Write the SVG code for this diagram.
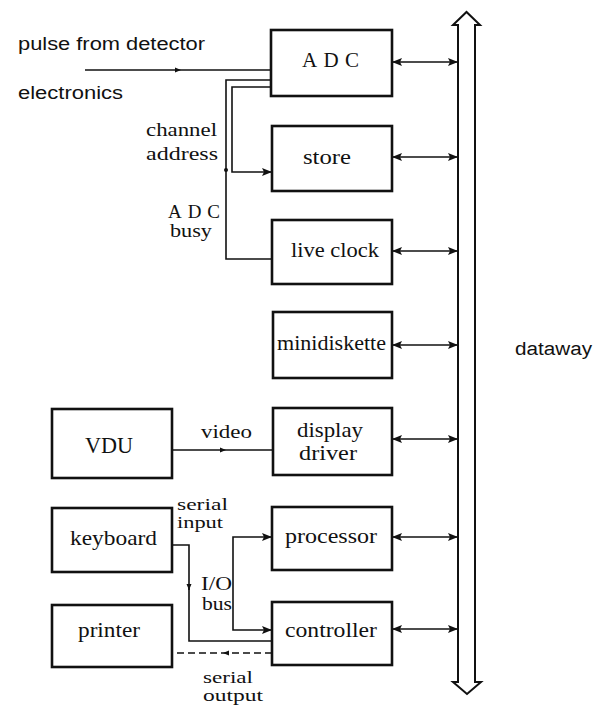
<svg xmlns="http://www.w3.org/2000/svg" width="594" height="705" viewBox="0 0 594 705">
<style>
.box{fill:#fff;stroke:#111;stroke-width:2.6}
.ln{fill:none;stroke:#111;stroke-width:1.6}
.dash{stroke-dasharray:7 4}
.bus{fill:#fff;stroke:#111;stroke-width:2}
.t{font-family:"Liberation Serif","Times New Roman",serif;font-size:21px;fill:#111}
.s{font-family:"Liberation Serif","Times New Roman",serif;font-size:19px;fill:#111}
.s2{font-family:"Liberation Serif","Times New Roman",serif;font-size:17px;fill:#111}
.ss{font-family:"Liberation Sans",Arial,sans-serif;font-size:18px;fill:#111}
</style>
<defs>
<marker id="ah" viewBox="0 0 10 8" refX="10" refY="4" markerWidth="10" markerHeight="8" markerUnits="userSpaceOnUse" orient="auto-start-reverse">
<path d="M0,0 L10,4 L0,8 L2,4 Z" fill="#111"/>
</marker>
<marker id="mid" viewBox="0 0 6 6" refX="3" refY="3" markerWidth="6" markerHeight="6" markerUnits="userSpaceOnUse" orient="auto">
<path d="M0,0.5 L6,3 L0,5.5 Z" fill="#111"/>
</marker>
</defs>

<g id="dataway">
<path class="bus" d="M458,682 L458,25 L453,25 L466.5,12 L480,25 L475,25 L475,682 L481,682 L467,694 L453,682 Z"/>
<text class="ss" x="515" y="355" textLength="77" lengthAdjust="spacingAndGlyphs">dataway</text>
</g>

<g id="connectors">
<path class="ln" d="M392,62 H458" marker-start="url(#ah)" marker-end="url(#ah)"/>
<path class="ln" d="M392,157 H458" marker-start="url(#ah)" marker-end="url(#ah)"/>
<path class="ln" d="M392,251 H458" marker-start="url(#ah)" marker-end="url(#ah)"/>
<path class="ln" d="M392,345 H458" marker-start="url(#ah)" marker-end="url(#ah)"/>
<path class="ln" d="M392,439 H458" marker-start="url(#ah)" marker-end="url(#ah)"/>
<path class="ln" d="M392,537 H458" marker-start="url(#ah)" marker-end="url(#ah)"/>
<path class="ln" d="M392,629 H458" marker-start="url(#ah)" marker-end="url(#ah)"/>
<path class="ln" d="M85,70 H178 H271" marker-mid="url(#mid)"/>
<path class="ln" d="M271,80 H226 V259 H272"/>
<path class="ln" d="M271,87 H232 V172 H272" marker-end="url(#ah)"/>
<circle cx="226" cy="170" r="2" fill="#111"/>
<path class="ln" d="M172,450 H223 H273" marker-mid="url(#mid)"/>
<path class="ln" d="M172,545 H189 V641 H272"/>
<path class="ln" d="M189,584 V587 V590" marker-mid="url(#mid)"/>
<path class="ln" d="M233,583 V537 H272" marker-end="url(#ah)"/>
<path class="ln" d="M233,583 V630 H272" marker-end="url(#ah)"/>
<path class="ln dash" d="M272,653 H226 H172" marker-mid="url(#mid)"/>
</g>

<g id="labels">
<text class="ss" x="18" y="50" textLength="187" lengthAdjust="spacingAndGlyphs">pulse from detector</text>
<text class="ss" x="18" y="99" textLength="105" lengthAdjust="spacingAndGlyphs">electronics</text>
<text class="s" x="146" y="136" textLength="71" lengthAdjust="spacingAndGlyphs">channel</text>
<text class="s" x="146" y="160" textLength="72" lengthAdjust="spacingAndGlyphs">address</text>
<text class="s" x="168" y="218" textLength="52" lengthAdjust="spacing">ADC</text>
<text class="s" x="170" y="237" textLength="42" lengthAdjust="spacingAndGlyphs">busy</text>
<text class="s" x="201" y="438" textLength="51" lengthAdjust="spacingAndGlyphs">video</text>
<text class="s2" x="177" y="510" textLength="51" lengthAdjust="spacingAndGlyphs">serial</text>
<text class="s2" x="177" y="528" textLength="46" lengthAdjust="spacingAndGlyphs">input</text>
<text class="s" x="201" y="590" textLength="31" lengthAdjust="spacingAndGlyphs">I/O</text>
<text class="s" x="202" y="610" textLength="30" lengthAdjust="spacingAndGlyphs">bus</text>
<text class="s2" x="203" y="683" textLength="50" lengthAdjust="spacingAndGlyphs">serial</text>
<text class="s2" x="203" y="701" textLength="60" lengthAdjust="spacingAndGlyphs">output</text>
</g>

<g id="adc"><rect class="box" x="271" y="30" width="121" height="66"/><text class="t" x="302" y="67" textLength="57" lengthAdjust="spacing">ADC</text></g>
<g id="store"><rect class="box" x="272" y="126" width="120" height="65"/><text class="t" x="303" y="164" textLength="48" lengthAdjust="spacingAndGlyphs">store</text></g>
<g id="live-clock"><rect class="box" x="272" y="220" width="120" height="64"/><text class="t" x="291" y="257" textLength="88" lengthAdjust="spacingAndGlyphs">live clock</text></g>
<g id="minidiskette"><rect class="box" x="273" y="312" width="119" height="66"/><text class="t" x="277" y="350" textLength="109" lengthAdjust="spacingAndGlyphs">minidiskette</text></g>
<g id="display-driver"><rect class="box" x="273" y="408" width="119" height="67"/><text class="t" x="297" y="437" textLength="66" lengthAdjust="spacingAndGlyphs">display</text><text class="t" x="299" y="460" textLength="58" lengthAdjust="spacingAndGlyphs">driver</text></g>
<g id="processor"><rect class="box" x="272" y="507" width="120" height="63"/><text class="t" x="285" y="543" textLength="92" lengthAdjust="spacingAndGlyphs">processor</text></g>
<g id="controller"><rect class="box" x="272" y="602" width="120" height="63"/><text class="t" x="285" y="637" textLength="92" lengthAdjust="spacingAndGlyphs">controller</text></g>
<g id="vdu"><rect class="box" x="52" y="409" width="120" height="69"/><text class="t" x="85" y="453" textLength="48" lengthAdjust="spacingAndGlyphs" style="font-size:23px">VDU</text></g>
<g id="keyboard"><rect class="box" x="52" y="508" width="120" height="64"/><text class="t" x="70" y="545" textLength="87" lengthAdjust="spacingAndGlyphs">keyboard</text></g>
<g id="printer"><rect class="box" x="52" y="605" width="120" height="62"/><text class="t" x="78" y="637" textLength="62" lengthAdjust="spacingAndGlyphs">printer</text></g>
</svg>
